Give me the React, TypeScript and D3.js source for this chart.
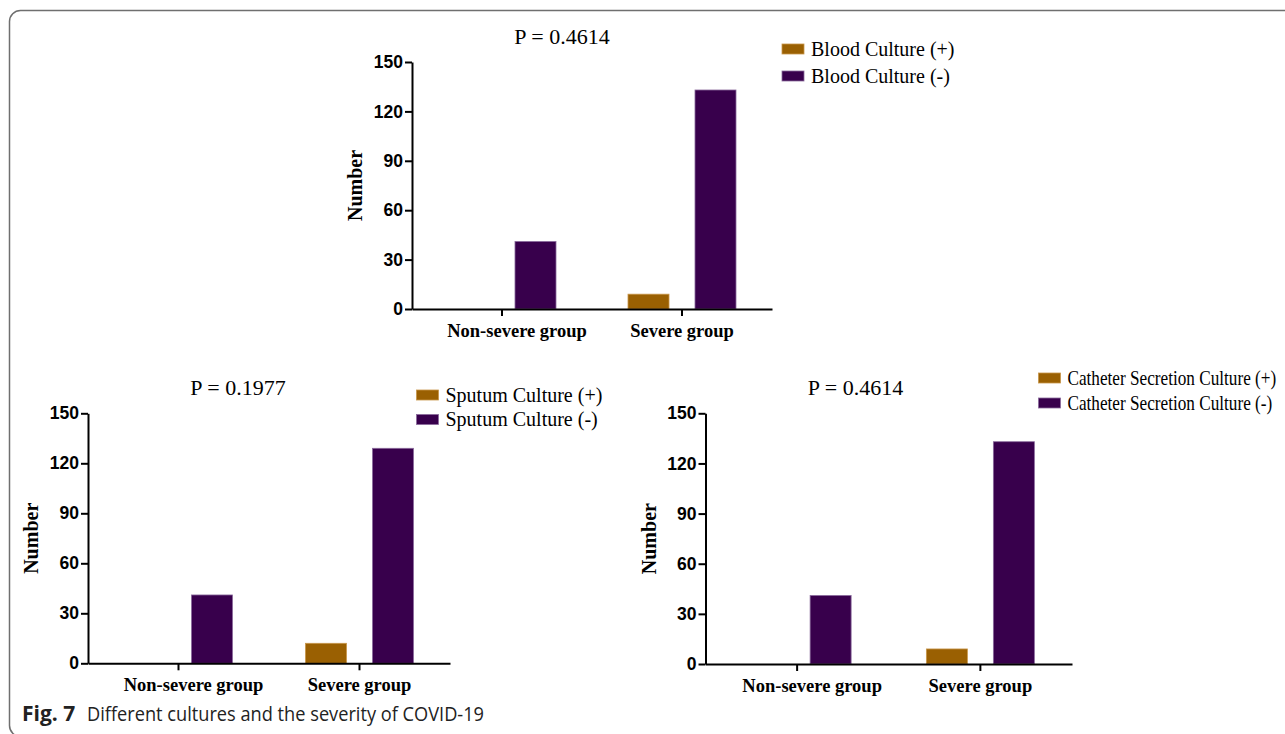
import React, { useEffect, useRef } from 'react';
import * as d3 from 'd3';

// values
const groups = ['Non-severe group', 'Severe group'];
const subgroups = ['pos', 'neg'];
const yTicks = [0, 30, 60, 90, 120, 150];

const bloodPos = [0, 9];
const bloodNeg = [41, 133];
const sputumPos = [0, 12];
const sputumNeg = [41, 129];
const catheterPos = [0, 9];
const catheterNeg = [41, 133];

const pLabels = ['P = 0.4614', 'P = 0.1977', 'P = 0.4614'];
const bloodLegend = ['Blood Culture (+)', 'Blood Culture (-)'];
const sputumLegend = ['Sputum Culture (+)', 'Sputum Culture (-)'];
const catheterLegend = ['Catheter Secretion Culture (+)', 'Catheter Secretion Culture (-)'];

const colors = { pos: '#9a6002', neg: '#38004c' };
const edges = { pos: '#c8964a', neg: '#8a6a9c' };

const W = 1285;
const H = 734;

const App = () => {
  const svgRef = useRef<SVGSVGElement>(null);

  useEffect(() => {
    const svg = d3.select(svgRef.current);
    svg.selectAll('*').remove();

    // figure frame
    svg.append('rect')
      .attr('x', 9.5).attr('y', 10.5)
      .attr('width', 1320).attr('height', 726)
      .attr('rx', 11)
      .attr('fill', 'none')
      .attr('stroke', '#6f6f6f')
      .attr('stroke-width', 1.5);

    const panels = [
      { pos: bloodPos, neg: bloodNeg, p: pLabels[0], legend: bloodLegend,
        x0: 412, x1: 772, yTop: 62, yZero: 309,
        lx: 782, ly: [49, 76], legendSize: 20, legendSy: 1 },
      { pos: sputumPos, neg: sputumNeg, p: pLabels[1], legend: sputumLegend,
        x0: 88, x1: 450, yTop: 413.3, yZero: 663.3,
        lx: 416.5, ly: [395, 419.5], legendSize: 20, legendSy: 1 },
      { pos: catheterPos, neg: catheterNeg, p: pLabels[2], legend: catheterLegend,
        x0: 705.5, x1: 1072, yTop: 413.3, yZero: 664,
        lx: 1038.5, ly: [378, 403], legendSize: 17.2, legendSy: 1.18 },
    ];

    panels.forEach((pn) => {
      const g = svg.append('g');

      const x = d3.scaleBand().domain(groups).range([pn.x0, pn.x1]).padding(0);
      const xs = d3.scaleBand().domain(subgroups).range([-54, 54]).paddingInner(0.388);
      const y = d3.scaleLinear().domain([0, 150]).range([pn.yZero, pn.yTop]);

      // bars
      groups.forEach((grp, i) => {
        const vals = { pos: pn.pos[i], neg: pn.neg[i] };
        subgroups.forEach((s) => {
          const v = vals[s];
          if (v <= 0) return;
          const cx = x(grp)! + x.bandwidth() / 2;
          g.append('rect')
            .attr('x', cx + xs(s)!)
            .attr('y', y(v))
            .attr('width', xs.bandwidth())
            .attr('height', y(0) - y(v))
            .attr('fill', colors[s])
            .attr('stroke', edges[s])
            .attr('stroke-width', 0.8);
        });
      });

      // y axis
      const yAxis = g.append('g')
        .attr('transform', `translate(${pn.x0},0)`)
        .call(d3.axisLeft(y).tickValues(yTicks).tickSize(7).tickSizeOuter(0).tickPadding(2));
      yAxis.select('.domain').attr('stroke', '#000').attr('stroke-width', 2);
      yAxis.selectAll('.tick line').attr('stroke', '#000').attr('stroke-width', 2);
      yAxis.selectAll('.tick text')
        .attr('fill', '#000')
        .style('font-family', 'Liberation Sans, Arial, sans-serif')
        .style('font-weight', 'bold')
        .style('font-size', '17.5px');

      // x axis
      const xAxis = g.append('g')
        .attr('transform', `translate(0,${pn.yZero})`)
        .call(d3.axisBottom(x).tickSize(7).tickSizeOuter(0).tickPadding(8));
      xAxis.select('.domain').attr('stroke', '#000').attr('stroke-width', 2);
      xAxis.selectAll('.tick line').attr('stroke', '#000').attr('stroke-width', 2);
      xAxis.selectAll('.tick text')
        .attr('fill', '#000')
        .attr('y', 28)
        .attr('dy', 0)
        .attr('dx', (_d, i) => (i === 0 ? 15 : 0))
        .style('font-family', 'Liberation Serif, Times New Roman, serif')
        .style('font-weight', 'bold')
        .style('font-size', '18.5px');

      // y label
      g.append('text')
        .attr('transform', `translate(${pn.x0 - 50},${(pn.yTop + pn.yZero) / 2}) rotate(-90)`)
        .attr('text-anchor', 'middle')
        .style('font-family', 'Liberation Serif, Times New Roman, serif')
        .style('font-weight', 'bold')
        .style('font-size', '20px')
        .text('Number');

      // P value title
      g.append('text')
        .attr('x', pn.x0 + 150)
        .attr('y', pn.yTop - 18)
        .attr('text-anchor', 'middle')
        .style('font-family', 'Liberation Serif, Times New Roman, serif')
        .style('font-size', '22px')
        .text(pn.p);

      // legend
      subgroups.forEach((s, i) => {
        g.append('rect')
          .attr('x', pn.lx)
          .attr('y', pn.ly[i] - 5)
          .attr('width', 22)
          .attr('height', 10)
          .attr('fill', colors[s])
          .attr('stroke', edges[s])
          .attr('stroke-width', 0.8);
        g.append('text')
          .attr('transform', `translate(${pn.lx + 29},${pn.ly[i] + 6.5}) scale(1,${pn.legendSy})`)
          .style('font-family', 'Liberation Serif, Times New Roman, serif')
          .style('font-size', `${pn.legendSize}px`)
          .text(pn.legend[i]);
      });
    });

    // caption
    const cap = svg.append('text')
      .attr('y', 721)
      .style('font-family', 'Open Sans, Noto Sans, sans-serif')
      .attr('fill', '#222');
    cap.append('tspan')
      .attr('x', 22)
      .style('font-weight', 'bold')
      .style('font-size', '21px')
      .text('Fig. 7');
    cap.append('tspan')
      .attr('x', 87)
      .attr('textLength', 397)
      .attr('lengthAdjust', 'spacingAndGlyphs')
      .style('font-size', '20px')
      .text('Different cultures and the severity of COVID-19');
  }, []);

  return (
    <svg
      ref={svgRef}
      width={W}
      height={H}
      style={{ position: 'absolute', left: 0, top: 0, background: '#fff' }}
    />
  );
};

export default App;
